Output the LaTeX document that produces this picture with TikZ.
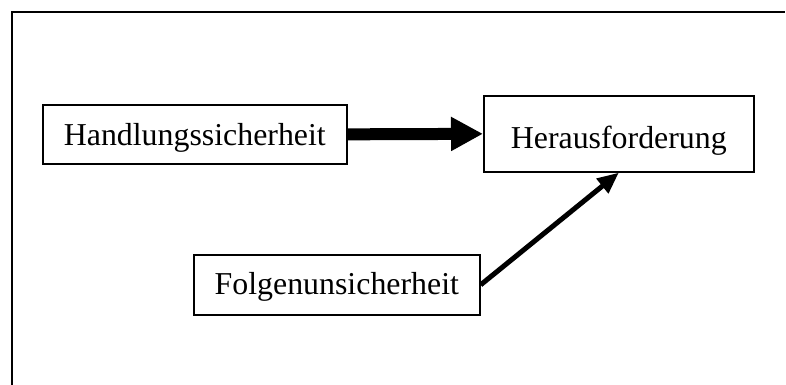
\documentclass[tikz,border=0pt]{standalone}
\usepackage{fontspec}
\setmainfont{Liberation Serif}
\usetikzlibrary{arrows.meta}
\begin{document}
\begin{tikzpicture}[x=0.75pt,y=-0.75pt,
  box/.style={draw, line width=1.25pt, inner sep=0pt, anchor=north west,
    font=\fontsize{23.9}{28}\selectfont},
  frameline/.style={line width=1.5pt},
  thickarrow/.style={line width=9pt, -{Triangle[length=24pt,width=24pt]}},
  thinarrow/.style={line width=3.75pt, -{Triangle[length=16pt,width=13.5pt]}}]
\useasboundingbox (0,0) rectangle (786,385);
\draw[frameline] (11.5,385) -- (11.5,12.5) -- (785,12.5);
\node[box, minimum width=228pt, text height=30.75pt, text depth=13.5pt] (h) at (42,104) {Handlungssicherheit};
\node[box, minimum width=202.5pt, text height=39.75pt, text depth=17.25pt] (c) at (483,95) {Herausforderung};
\node[box, minimum width=214.5pt, text height=30pt, text depth=15pt] (f) at (193,254) {Folgenunsicherheit};
\draw[thickarrow] (h.east) -- (c.west);
\draw[thinarrow] (f.east) -- (c.south);
\end{tikzpicture}
\end{document}
